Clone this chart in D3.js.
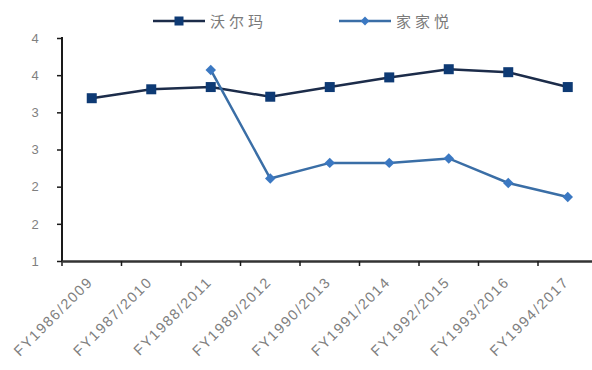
<!DOCTYPE html>
<html>
<head>
<meta charset="utf-8">
<script src="https://cdn.jsdelivr.net/npm/d3@7"></script>
<style>
  html, body { margin: 0; padding: 0; background: #fff; }
  svg { display: block; }
  .tick text { font-family: Arial, "Liberation Sans", sans-serif; fill: #7f7f7f; }
</style>
</head>
<body>
<svg id="chart" width="592" height="370"></svg>
<script>
// Fiscal-year labels (Walmart FY / Jiajiayue year)
const categories = ["FY1986/2009", "FY1987/2010", "FY1988/2011", "FY1989/2012", "FY1990/2013",
                    "FY1991/2014", "FY1992/2015", "FY1993/2016", "FY1994/2017"];
const walmart = [3.19, 3.31, 3.34, 3.21, 3.34, 3.47, 3.58, 3.54, 3.34];
const jiajiayue = [null, null, 3.57, 2.11, 2.32, 2.32, 2.38, 2.05, 1.86];
const yTicks = [1, 1.5, 2, 2.5, 3, 3.5, 4];
const seriesNames = ["沃尔玛", "家家悦"];

const svg = d3.select("#chart");
const plotLeft = 62, plotTop = 38, plotBottom = 261;
const band = 59.5;

const x = d3.scaleBand().domain(categories).range([plotLeft, plotLeft + band * categories.length]).padding(0);
const y = d3.scaleLinear().domain([1, 4]).range([plotBottom, plotTop]);

// Y axis: labels rounded to whole numbers
const yAxis = d3.axisLeft(y).tickValues(yTicks).tickSize(5).tickPadding(22)
  .tickFormat(d => d3.format(".0f")(Math.round(d)));
const gy = svg.append("g").attr("transform", `translate(${plotLeft},0)`).call(yAxis);
gy.select(".domain").attr("stroke", "#1a1a1a").attr("stroke-width", 2).attr("d", `M0,${plotTop - 1}V${plotBottom}`);
gy.selectAll(".tick line").attr("stroke", "#1a1a1a").attr("stroke-width", 1.5);
gy.selectAll(".tick text").attr("font-size", 13).attr("text-anchor", "middle");

// X axis: ticks at the category boundaries, labels rotated
const xAxis = d3.axisBottom(x).tickSize(5).tickSizeOuter(0);
const gx = svg.append("g").attr("transform", `translate(0,${plotBottom})`).call(xAxis);
gx.select(".domain").attr("stroke", "#333").attr("stroke-width", 2.5);
gx.selectAll(".tick line").attr("stroke", "#1a1a1a").attr("stroke-width", 1.5)
  .attr("transform", `translate(${-x.bandwidth() / 2},0)`);
gx.selectAll(".tick text")
  .attr("font-size", 14.5)
  .attr("letter-spacing", 1.6)
  .attr("text-anchor", "end")
  .attr("transform", "translate(2,22) rotate(-45)")
  .attr("y", 0).attr("dy", 0).attr("x", 0);

const cx = d => x(d) + x.bandwidth() / 2;

const colors = { walmart: { line: "#1c2c4a", mark: "#0e3a74" }, jjy: { line: "#3a6ea6", mark: "#3b78c2" } };

// Walmart line with square markers
const lineW = d3.line().x((d, i) => cx(categories[i])).y(d => y(d));
svg.append("path").datum(walmart).attr("d", lineW)
  .attr("fill", "none").attr("stroke", colors.walmart.line).attr("stroke-width", 2.5);
svg.selectAll(".sq").data(walmart).enter().append("rect")
  .attr("x", (d, i) => cx(categories[i]) - 5).attr("y", d => y(d) - 5)
  .attr("width", 10).attr("height", 10).attr("fill", colors.walmart.mark);

// Jiajiayue line with diamond markers
const lineJ = d3.line().defined(d => d != null).x((d, i) => cx(categories[i])).y(d => y(d));
svg.append("path").datum(jiajiayue).attr("d", lineJ)
  .attr("fill", "none").attr("stroke", colors.jjy.line).attr("stroke-width", 2.5);
const diamond = d3.symbol().type(d3.symbolDiamond2).size(70);
svg.selectAll(".dm").data(jiajiayue.map((v, i) => ({ v, c: categories[i] })).filter(d => d.v != null))
  .enter().append("path")
  .attr("d", diamond)
  .attr("transform", d => `translate(${cx(d.c)},${y(d.v)})`)
  .attr("fill", colors.jjy.mark);

// Legend
const legend = [
  { name: seriesNames[0], x0: 153, c: colors.walmart, shape: "square" },
  { name: seriesNames[1], x0: 339, c: colors.jjy, shape: "diamond" }
];
const ly = 21;
legend.forEach(l => {
  const g = svg.append("g");
  g.append("line").attr("x1", l.x0).attr("x2", l.x0 + 52).attr("y1", ly).attr("y2", ly)
    .attr("stroke", l.c.line).attr("stroke-width", 2.5);
  if (l.shape === "square") {
    g.append("rect").attr("x", l.x0 + 26 - 4.5).attr("y", ly - 4.5).attr("width", 9).attr("height", 9).attr("fill", l.c.mark);
  } else {
    g.append("path").attr("d", d3.symbol().type(d3.symbolDiamond2).size(50))
      .attr("transform", `translate(${l.x0 + 26},${ly})`).attr("fill", l.c.mark);
  }
  g.append("text").attr("x", l.x0 + 57).attr("y", ly + 5.5)
    .attr("font-family", "'Noto Sans CJK SC', sans-serif").attr("font-size", 15)
    .attr("letter-spacing", 4).attr("fill", "#7a7a7a").text(l.name);
});
</script>
</body>
</html>
